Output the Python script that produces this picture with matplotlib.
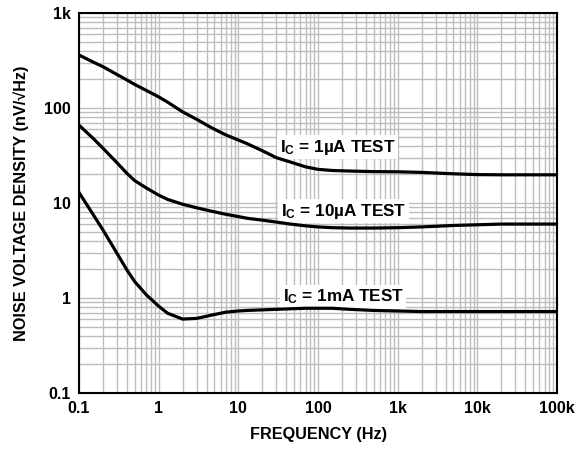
import matplotlib
matplotlib.use("Agg")
import matplotlib.pyplot as plt
from matplotlib.ticker import LogLocator, FixedLocator, FixedFormatter, NullFormatter

plt.rcParams['font.family'] = ['Liberation Sans', 'DejaVu Sans']
plt.rcParams['font.weight'] = 'bold'
plt.rcParams['mathtext.fontset'] = 'custom'
plt.rcParams['mathtext.rm'] = 'Liberation Sans:bold'
plt.rcParams['mathtext.bf'] = 'Liberation Sans:bold'
plt.rcParams['mathtext.it'] = 'Liberation Sans:bold'

# Data
freq = [0.1, 0.15, 0.2, 0.3, 0.4, 0.5, 0.7, 1, 1.3, 2, 3, 4.6, 7, 10, 13, 20,
        30, 45, 70, 100, 150, 250, 500, 1e3, 2e3, 5e3, 1e4, 2e4, 5e4, 1e5]
noise_1uA = [361, 305, 272, 225, 197, 177, 153, 131, 115, 91, 76, 62, 52, 46,
             42, 35.5, 30, 27, 24, 22.6, 22, 21.7, 21.4, 21.3, 21.0, 20.3,
             19.9, 19.8, 19.8, 19.8]
noise_10uA = [66, 48, 37.7, 26.5, 20.5, 17.2, 14.4, 12.1, 10.9, 9.7, 8.9, 8.2,
              7.6, 7.2, 6.9, 6.6, 6.3, 6.0, 5.75, 5.6, 5.5, 5.45, 5.45, 5.5,
              5.6, 5.8, 5.9, 6.0, 6.0, 6.0]
noise_1mA = [12.9, 7.6, 5.2, 2.95, 1.97, 1.49, 1.08, 0.82, 0.69, 0.60, 0.61,
             0.66, 0.71, 0.73, 0.74, 0.75, 0.76, 0.77, 0.78, 0.78, 0.78, 0.76,
             0.74, 0.73, 0.72, 0.72, 0.72, 0.72, 0.72, 0.72]

series = [noise_1uA, noise_10uA, noise_1mA]
labels = [r"$\mathbf{I_C}$ = 1µA TEST", r"$\mathbf{I_C}$ = 10µA TEST",
          r"$\mathbf{I_C}$ = 1mA TEST"]
label_pos = [(33, 38.8), (34, 8.2), (36, 1.03)]

x_ticks = [0.1, 1, 10, 100, 1e3, 1e4, 1e5]
x_ticklabels = ["0.1", "1", "10", "100", "1k", "10k", "100k"]
y_ticks = [0.1, 1, 10, 100, 1e3]
y_ticklabels = ["0.1", "1", "10", "100", "1k"]

fig = plt.figure(figsize=(5.78, 4.49), dpi=100)
ax = fig.add_axes([79/578, 1 - 393/449, (557-79)/578, (393-13)/449])
ax.set_xscale('log')
ax.set_yscale('log')
ax.set_xlim(0.1, 1e5)
ax.set_ylim(0.1, 1e3)

ax.xaxis.set_major_locator(FixedLocator(x_ticks))
ax.xaxis.set_major_formatter(FixedFormatter(x_ticklabels))
ax.yaxis.set_major_locator(FixedLocator(y_ticks))
ax.yaxis.set_major_formatter(FixedFormatter(y_ticklabels))
ax.xaxis.set_minor_locator(LogLocator(base=10, subs=range(2, 10), numticks=20))
ax.yaxis.set_minor_locator(LogLocator(base=10, subs=range(2, 10), numticks=20))
ax.xaxis.set_minor_formatter(NullFormatter())
ax.yaxis.set_minor_formatter(NullFormatter())

ax.grid(True, which='both', color='#bdbdbd', linewidth=1.0)
ax.set_axisbelow(True)
ax.tick_params(which='both', length=0, labelsize=11.5, pad=6)
for lbl in ax.get_xticklabels() + ax.get_yticklabels():
    lbl.set_fontweight('bold')

for s in ax.spines.values():
    s.set_linewidth(1.5)
    s.set_color('black')

for vals in series:
    ax.plot(freq, vals, color='black', linewidth=2.3, zorder=3,
            solid_joinstyle='round')

for text, (xp, yp) in zip(labels, label_pos):
    ax.text(xp, yp, text, fontsize=12.3, fontweight='bold', ha='left',
            va='center', zorder=2.5,
            bbox=dict(facecolor='white', edgecolor='none', pad=2.0))

ax.set_xlabel("FREQUENCY (Hz)", fontsize=11.7, fontweight='bold', labelpad=8)
ax.set_ylabel("NOISE VOLTAGE DENSITY (nV/√Hz)", fontsize=11.7,
              fontweight='bold', labelpad=11)

fig.savefig("out.png", dpi=100)
